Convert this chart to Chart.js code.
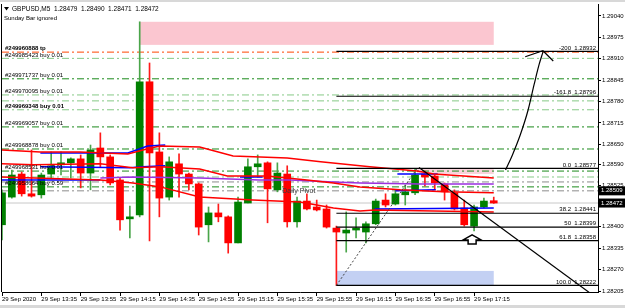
<!DOCTYPE html>
<html>
<head>
<meta charset="utf-8">
<script src="https://cdn.jsdelivr.net/npm/chart.js@4.4.0/dist/chart.umd.min.js"></script>
<style>
  html, body { margin: 0; padding: 0; background: #fff; }
  canvas { display: block; }
</style>
</head>
<body>
<canvas id="chart" width="625" height="308"></canvas>
<script>
/* GBPUSD M5 chart, 29 Sep 2020, bars from 13:15 to 17:25 */

const FONT = '"Liberation Sans", Arial, sans-serif';

// candles (bar index 0 = 13:15)
const opens  = [1.28406,1.28490,1.28560,1.28500,1.28497,1.28560,1.28588,1.28594,1.28606,1.28563,1.28639,1.28612,1.28542,1.28424,1.28436,1.28840,1.28627,1.28490,1.28591,1.28560,1.28530,1.28406,1.28442,1.28430,1.28351,1.28472,1.28582,1.28594,1.28512,1.28560,1.28415,1.28478,1.28460,1.28454,1.28396,1.28381,1.28390,1.28384,1.28409,1.28481,1.28469,1.28497,1.28503,1.28560,1.28554,1.28530,1.28503,1.28457,1.28402,1.28460,1.28479];
const highs  = [1.28512,1.28572,1.28566,1.28633,1.28563,1.28627,1.28627,1.28609,1.28618,1.28648,1.28685,1.28618,1.28548,1.28463,1.29022,1.28897,1.28685,1.28612,1.28621,1.28563,1.28533,1.28460,1.28469,1.28433,1.28490,1.28606,1.28618,1.28597,1.28594,1.28585,1.28490,1.28500,1.28481,1.28466,1.28402,1.28445,1.28427,1.28415,1.28484,1.28500,1.28512,1.28527,1.28577,1.28569,1.28557,1.28533,1.28512,1.28481,1.28466,1.28487,1.28490];
const lows   = [1.28360,1.28487,1.28493,1.28490,1.28487,1.28548,1.28557,1.28548,1.28518,1.28512,1.28582,1.28527,1.28390,1.28366,1.28430,1.28357,1.28430,1.28481,1.28490,1.28512,1.28375,1.28354,1.28415,1.28320,1.28351,1.28472,1.28551,1.28412,1.28506,1.28399,1.28399,1.28451,1.28448,1.28396,1.28222,1.28323,1.28366,1.28351,1.28406,1.28460,1.28466,1.28466,1.28497,1.28524,1.28512,1.28481,1.28451,1.28402,1.28387,1.28457,1.28471];
const closes = [1.28503,1.28557,1.28500,1.28493,1.28557,1.28585,1.28594,1.28606,1.28563,1.28633,1.28612,1.28533,1.28421,1.28430,1.28840,1.28624,1.28487,1.28597,1.28560,1.28530,1.28399,1.28442,1.28430,1.28351,1.28475,1.28582,1.28591,1.28515,1.28563,1.28415,1.28478,1.28454,1.28451,1.28399,1.28384,1.28390,1.28396,1.28409,1.28478,1.28466,1.28500,1.28506,1.28557,1.28551,1.28533,1.28506,1.28454,1.28406,1.28460,1.28478,1.28472];

// axis ticks
const timeTicks  = [0, 4, 8, 12, 16, 20, 24, 28, 32, 36, 40, 44, 48];
const timeLabels = ['29 Sep 2020','29 Sep 13:35','29 Sep 13:55','29 Sep 14:15','29 Sep 14:35','29 Sep 14:55','29 Sep 15:15','29 Sep 15:35','29 Sep 15:55','29 Sep 16:15','29 Sep 16:35','29 Sep 16:55','29 Sep 17:15'];
const priceTicks = [1.29040,1.28975,1.28910,1.28845,1.28780,1.28715,1.28650,1.28590,1.28525,1.28400,1.28335,1.28270,1.28205];
const axisBoxes  = [1.28509, 1.28472];   // black price boxes on the axis

// indicator lines, [bar index, price]
const redUpper  = [[0,1.28633],[3.9,1.28627],[7.9,1.28627],[12.8,1.28621],[15.1,1.28639],[16.1,1.28645],[20.1,1.28642],[23.5,1.28615],[29.0,1.28609],[32.4,1.28597],[37.4,1.28582],[42.2,1.28569],[43.9,1.28560],[50.0,1.28548]];
const redMiddle = [[0,1.28591],[3.2,1.28588],[10.0,1.28591],[13.3,1.28579],[16.1,1.28582],[20.1,1.28575],[22.9,1.28554],[27.0,1.28554],[31.0,1.28542],[33.7,1.28533],[36.4,1.28521],[40.5,1.28512],[44.9,1.28506],[50.0,1.28503]];
const redLower  = [[0,1.28551],[6.6,1.28545],[10.0,1.28542],[13.3,1.28533],[16.1,1.28521],[20.1,1.28490],[25.5,1.28481],[30.3,1.28475],[33.7,1.28457],[36.4,1.28448],[37.9,1.28451],[50.0,1.28445]];
const blueUpperA  = [[3.9,1.28624],[12.8,1.28624],[14.8,1.28645],[16.6,1.28648]];
const blueUpperB  = [[40.2,1.28560],[44.3,1.28560]];
const blueMiddleA = [[3.9,1.28582],[13.0,1.28579],[14.3,1.28582],[16.6,1.28585]];
const blueMiddleB = [[24.2,1.28551],[26.5,1.28551]];
const blueMiddleC = [[40.0,1.28509],[44.1,1.28512]];
const blueLowerA  = [[0,1.28542],[10.0,1.28542]];
const blueLowerB  = [[37.9,1.28454],[50.0,1.28457]];
const purpleLine  = [[10.0,1.28548],[13.3,1.28551],[20.1,1.28548],[26.2,1.28542],[29.3,1.28542],[33.7,1.28536],[36.4,1.28533],[42.5,1.28530],[50.0,1.28530]];

// open order lines
const orderPrices = [1.28930, 1.28911, 1.28849, 1.28800, 1.28782, 1.28755, 1.28703, 1.28636, 1.28569, 1.28551, 1.28536, 1.28521, 1.28509];
const orderKinds  = ['tp', 'light', 'dark', 'light', 'light', 'light', 'dark', 'dark', 'dark', 'light', 'gray', 'dark', 'gray'];
const orderTexts  = ['#249960888 tp', '#249985423 buy 0.01', '#249971737 buy 0.01', '#249970095 buy 0.01', '', '#249969348 buy 0.01', '#249969057 buy 0.01', '#249968878 buy 0.01', '#249968531 buy 0.01', '', '', '#249958664 buy 0.59', ''];
const bidPrice = 1.28472;

// fibonacci retracement
const fibStart  = 34;
const fibLevels = ['-200', '-161.8', '0.0', '38.2', '50', '61.8', '100.0'];
const fibPrices = [1.28932, 1.28796, 1.28577, 1.28441, 1.28399, 1.28358, 1.28222];
const fibTrend  = [[34, 1.28222], [42.2, 1.28577]];

// drawn objects
const trendLine  = [[42.4, 1.28580], [60.6, 1.28181]];
const curveArrow = [[51.2,1.28572],[51.9,1.28618],[52.7,1.28679],[53.5,1.28755],[54.1,1.28831],[54.6,1.28891],[55.0,1.28930]];
const arrowHead  = [[53.2,1.28916],[55.0,1.28934],[56.05,1.28903]];
const upArrow    = [47.8, 1.28363];
const pinkZone   = [14, 50, 1.29022, 1.28952];
const pinkBand   = [42.2, 50, 1.28577, 1.28560];
const blueZone   = [34, 50, 1.28266, 1.28223];
const pivotLabel = [28.5, 1.28497];

const header1 = 'GBPUSD,M5  1.28479  1.28490  1.28471  1.28472';
const header2 = 'Sunday Bar ignored';

// ---------- datasets ----------
const idx  = opens.map((o, i) => i);
const bull = opens.map((o, i) => closes[i] >= o);
const pts  = arr => arr.map(p => ({ x: p[0], y: p[1] }));

function line(arr, color, width, dash, order, extra) {
    return Object.assign({
        type: 'line', data: pts(arr), borderColor: color, borderWidth: width,
        borderDash: dash || [], pointRadius: 0, tension: 0, order: order
    }, extra || {});
}

const orderStyle = {
    tp:    ['#ff4500', [7, 3, 2, 3]],
    light: ['#86c986', [7, 3, 2, 3]],
    dark:  ['#1b8a1b', [7, 3, 2, 3]],
    gray:  ['#8c8c8c', [7, 3, 2, 3]]
};

const datasets = [];

datasets.push(line([[0, bidPrice], [60.6, bidPrice]], '#c8c8c8', 1, [], 12));
orderPrices.forEach((p, i) => {
    const st = orderStyle[orderKinds[i]];
    datasets.push(line([[0, p], [60.6, p]], st[0], 1, st[1], 11));
});

datasets.push({
    type: 'bar', data: idx.map(i => ({ x: i, y: [lows[i], highs[i]] })),
    backgroundColor: bull.map(b => b ? '#4aa54a' : '#ff1a1a'),
    barThickness: 1, grouped: false, order: 8
});
datasets.push({
    type: 'bar', data: idx.map(i => ({ x: i, y: [opens[i], closes[i]] })),
    backgroundColor: bull.map(b => b ? '#008000' : '#ff0000'),
    barThickness: 7, grouped: false, minBarLength: 2, order: 7
});

[blueUpperA, blueUpperB, blueMiddleA, blueMiddleB, blueMiddleC, blueLowerA, blueLowerB].forEach(a =>
    datasets.push(line(a, '#0000ff', 1.5, [], 5)));
datasets.push(line(purpleLine, '#9b30e0', 1.5, [], 5));
[redUpper, redMiddle, redLower].forEach(a => datasets.push(line(a, '#ff0000', 1.5, [], 4)));

fibPrices.forEach(p => datasets.push(line([[fibStart, p], [60.6, p]], '#000', 1.2, [], 2)));
datasets.push(line(fibTrend, '#444', 1, [2, 2], 2));
datasets.push(line(trendLine, '#000', 1.2, [], 1));
datasets.push(line(curveArrow, '#000', 1.2, [], 1, { cubicInterpolationMode: 'monotone' }));
datasets.push(line(arrowHead, '#000', 1.2, [], 1));

// ---------- overlay drawing ----------
const overlay = {
    id: 'overlay',
    beforeDatasetsDraw(chart) {
        const { ctx, scales: { x, y } } = chart;
        const rect = (z, c) => {
            const x0 = x.getPixelForValue(z[0]), x1 = x.getPixelForValue(z[1]);
            const y0 = y.getPixelForValue(z[2]), y1 = y.getPixelForValue(z[3]);
            ctx.fillStyle = c;
            ctx.fillRect(x0, y0, x1 - x0, y1 - y0);
        };
        ctx.save();
        rect(pinkZone, '#fbc6d0');
        rect(pinkBand, '#fbd3dc');
        rect(blueZone, '#c3d0f3');
        ctx.restore();
    },
    afterDatasetsDraw(chart) {
        const { ctx, chartArea: a, scales: { x, y } } = chart;
        ctx.save();
        ctx.textBaseline = 'bottom';
        // order labels
        orderTexts.forEach((t, i) => {
            if (!t) return;
            const bold = i === 0 || i === 5;
            ctx.font = (bold ? 'bold ' : '') + '6px ' + FONT;
            ctx.fillStyle = '#000';
            ctx.textAlign = 'left';
            ctx.fillText(t, a.left + 3, y.getPixelForValue(orderPrices[i]) - 0.5);
        });
        // fibo labels
        ctx.font = '6px ' + FONT;
        ctx.textAlign = 'right';
        fibLevels.forEach((l, i) => {
            ctx.fillText(l + '  ' + fibPrices[i].toFixed(5), a.right - 2, y.getPixelForValue(fibPrices[i]) - 0.5);
        });
        // daily pivot
        ctx.textAlign = 'left';
        ctx.fillStyle = '#3a3a3a';
        ctx.font = '7px ' + FONT;
        ctx.fillText('Daily Pivot', x.getPixelForValue(pivotLabel[0]), y.getPixelForValue(pivotLabel[1]));
        // hollow up arrow
        const ax = x.getPixelForValue(upArrow[0]), ay = y.getPixelForValue(upArrow[1]) - 4;
        ctx.beginPath();
        ctx.moveTo(ax, ay);
        ctx.lineTo(ax + 9, ay + 5);
        ctx.lineTo(ax + 4, ay + 5);
        ctx.lineTo(ax + 4, ay + 9);
        ctx.lineTo(ax - 4, ay + 9);
        ctx.lineTo(ax - 4, ay + 5);
        ctx.lineTo(ax - 9, ay + 5);
        ctx.closePath();
        ctx.fillStyle = '#fff';
        ctx.fill();
        ctx.lineWidth = 1.5;
        ctx.strokeStyle = '#000';
        ctx.stroke();
        ctx.restore();
    },
    afterDraw(chart) {
        const { ctx, chartArea: a, scales: { y } } = chart;
        ctx.save();
        // left frame line
        ctx.fillStyle = '#000';
        ctx.fillRect(a.left - 1, a.top, 1, a.bottom - a.top);
        // price boxes
        ctx.font = '6px ' + FONT;
        ctx.textBaseline = 'middle';
        ctx.textAlign = 'left';
        axisBoxes.forEach(p => {
            const py = y.getPixelForValue(p);
            ctx.fillStyle = '#000';
            ctx.fillRect(a.right + 1, py - 4.5, 26, 9);
            ctx.fillStyle = '#fff';
            ctx.fillText(p.toFixed(5), a.right + 3, py);
        });
        // header
        ctx.fillStyle = '#000';
        ctx.beginPath();
        ctx.moveTo(4, 7); ctx.lineTo(9, 7); ctx.lineTo(6.5, 10.5); ctx.closePath();
        ctx.fill();
        ctx.textBaseline = 'middle';
        ctx.font = '6.5px ' + FONT;
        ctx.fillText(header1, 12, 9);
        ctx.font = '6px ' + FONT;
        ctx.fillText(header2, 4, 18.5);
        // window strips
        ctx.fillStyle = '#d8d8d8';
        ctx.fillRect(0, 0, 625, 2);
        ctx.fillRect(0, 305, 625, 3);
        ctx.restore();
    }
};

new Chart(document.getElementById('chart'), {
    type: 'bar',
    data: { datasets: datasets },
    options: {
        responsive: false,
        animation: false,
        events: [],
        layout: { padding: { left: 2, top: 4, right: 0, bottom: 0 } },
        scales: {
            x: {
                type: 'linear', min: 0, max: 60.6, offset: false,
                border: { color: '#000', width: 1 },
                grid: { drawOnChartArea: false, tickLength: 4, color: '#000', offset: false },
                ticks: {
                    autoSkip: false, maxRotation: 0, align: 'start', padding: 0,
                    font: { family: FONT, size: 6 }, color: '#000',
                    callback: v => timeLabels[timeTicks.indexOf(v)] || ''
                },
                afterBuildTicks: s => { s.ticks = timeTicks.map(v => ({ value: v })); },
                afterFit: s => { s.height = 16; s.paddingLeft = 0; s.paddingRight = 0; }
            },
            y: {
                position: 'right', min: 1.28202, max: 1.29076,
                border: { color: '#000', width: 1 },
                grid: { drawOnChartArea: false, tickLength: 3, color: '#000' },
                ticks: {
                    padding: 1, font: { family: FONT, size: 6 }, color: '#000',
                    callback: v => Number(v).toFixed(5)
                },
                afterBuildTicks: s => { s.ticks = priceTicks.map(v => ({ value: v })); },
                afterFit: s => { s.width = 27; s.paddingTop = 0; s.paddingBottom = 0; }
            }
        },
        plugins: { legend: { display: false }, tooltip: { enabled: false } }
    },
    plugins: [overlay]
});
</script>
</body>
</html>
